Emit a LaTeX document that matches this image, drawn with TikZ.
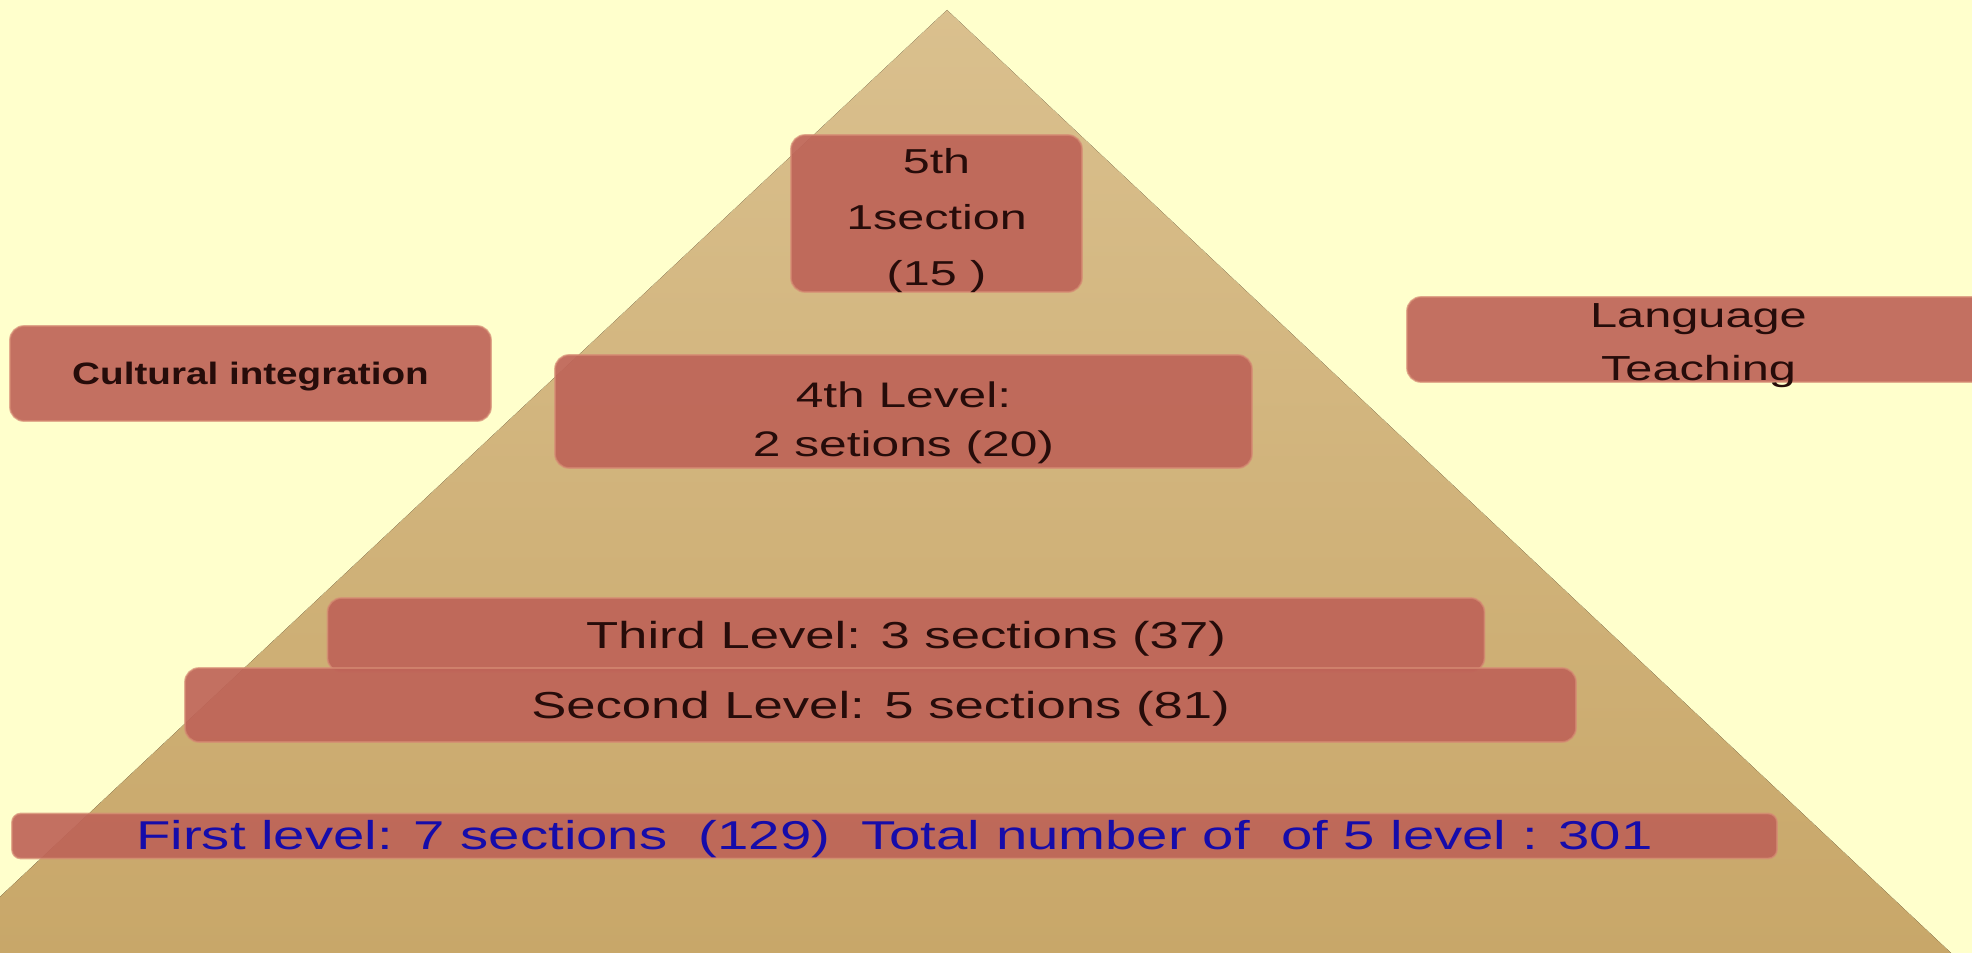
\documentclass[tikz,border=0pt]{standalone}
\usepackage{fontspec}
\setmainfont{Liberation Sans}[FakeStretch=1.4]
\newfontfamily\tagfont{Liberation Sans}[FakeStretch=1.25]
\usepackage{xcolor}
\definecolor{paper}{RGB}{255,255,204}
\definecolor{sandtop}{RGB}{218,192,142}
\definecolor{sandbot}{RGB}{200,167,105}
\definecolor{brick}{RGB}{190,100,88}
\definecolor{brickline}{RGB}{214,140,116}
\definecolor{inkdark}{RGB}{38,12,10}
\definecolor{inkblue}{RGB}{22,12,170}
\newcommand{\fs}[2]{\fontsize{#1}{#2}\selectfont}
\newcommand{\slidestrut}{\rule[-.212em]{0pt}{1.117em}}
\newcommand{\lowfirst}[1]{\rule{0pt}{#1}}

\begin{document}
\begin{tikzpicture}[y=-1cm,
    tier/.style={rectangle,rounded corners=4pt,fill=brick,fill opacity=.92,draw=brickline,
      draw opacity=.7,line width=.5pt,text opacity=1,text=inkdark,inner sep=0pt,align=center,
      font=\fs{10.1}{14},execute at begin node=\slidestrut,execute at end node=\slidestrut}]
  \useasboundingbox (0,0) rectangle (19.72,9.53);
  \clip (0,0) rectangle (19.72,9.53);
  \fill[paper] (0,0) rectangle (19.72,9.53);
  % the pyramid
  \fill[top color=sandtop,bottom color=sandbot] (9.47,0.10) -- (-0.60,9.53) -- (19.51,9.53) -- cycle;
  % levels, top to bottom
  \node[tier,inner ysep=-2pt,minimum width=2.91cm,minimum height=1.57cm,font=\fs{9.85}{15.9}] (fifth) at (9.365,2.135) {\lowfirst{11pt}5th\\1section\\(15 )};
  \node[tier,minimum width=6.97cm,minimum height=1.13cm] (fourth) at (9.035,4.115) {\lowfirst{13.8pt}4th Level:\\2 setions (20)};
  \node[tier,minimum width=11.57cm,minimum height=.74cm,font=\fs{10.7}{12}] (third) at (9.06,6.35) {Third Level: 3 sections (37)};
  \node[tier,minimum width=13.91cm,minimum height=.74cm,font=\fs{10.7}{12}] (second) at (8.805,7.05) {Second Level: 5 sections (81)};
  \node[tier,rounded corners=2.5pt,minimum width=17.65cm,minimum height=.42cm,text=inkblue,font=\fs{11.45}{12}] (first) at (8.945,8.36)
    {First level: 7 sections\ \ (129)\ \ Total number of\ \ of 5 level : 301};
  % side labels
  \node[tier,minimum width=4.81cm,minimum height=.95cm,font=\tagfont\bfseries\fs{8.8}{10}] (culture) at (2.505,3.735) {Cultural integration};
  \node[tier,inner ysep=-3pt,minimum width=5.83cm,minimum height=.85cm,font=\fs{9.9}{15}] (language) at (16.985,3.395) {\lowfirst{10.5pt}Language\\Teaching};
\end{tikzpicture}
\end{document}
